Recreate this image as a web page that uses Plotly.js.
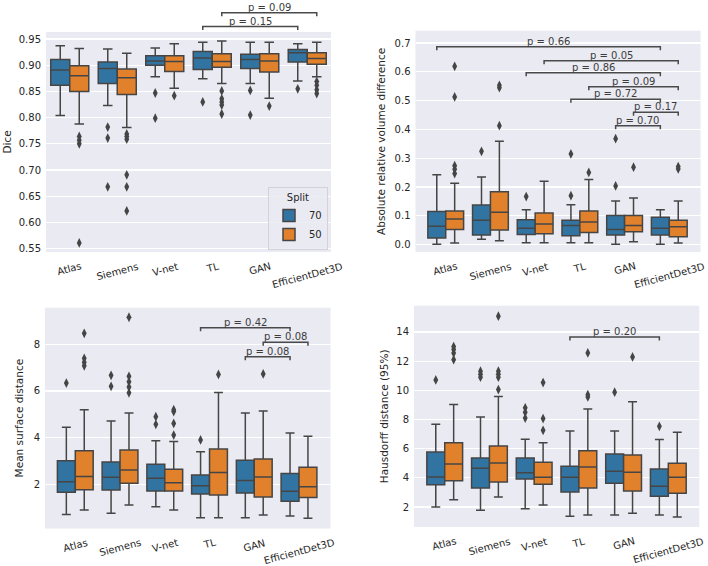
<!DOCTYPE html>
<html><head><meta charset="utf-8">
<script src="https://cdn.plot.ly/plotly-3.0.1.min.js"></script>
<style>html,body{margin:0;padding:0;background:#fff}#chart{width:708px;height:566px}</style>
</head><body><div id="chart"></div>
<script>
// ---------- DATA ----------
const categories = ['Atlas', 'Siemens', 'V-net', 'TL', 'GAN', 'EfficientDet3D'];
const splits = ['70', '50'];

// Dice
const diceLow70 = [0.804, 0.823, 0.878, 0.874, 0.865, 0.870];
const diceQ1_70 = [0.862, 0.865, 0.900, 0.892, 0.894, 0.906];
const diceMed70 = [0.891, 0.894, 0.908, 0.914, 0.911, 0.924];
const diceQ3_70 = [0.911, 0.906, 0.918, 0.926, 0.921, 0.930];
const diceHigh70 = [0.937, 0.931, 0.933, 0.944, 0.944, 0.941];
const diceOut70 = [[], [0.782, 0.761, 0.668], [0.847, 0.799], [0.830], [0.852, 0.805], [0.855]];
const diceLow50 = [0.788, 0.781, 0.856, 0.865, 0.837, 0.878];
const diceQ1_50 = [0.850, 0.844, 0.888, 0.896, 0.887, 0.902];
const diceMed50 = [0.880, 0.876, 0.907, 0.907, 0.908, 0.913];
const diceQ3_50 = [0.899, 0.893, 0.918, 0.922, 0.922, 0.924];
const diceHigh50 = [0.932, 0.923, 0.941, 0.946, 0.944, 0.944];
const diceOut50 = [[0.764, 0.757, 0.750, 0.561], [0.769, 0.764, 0.759, 0.691, 0.668, 0.622], [0.842], [0.851, 0.836, 0.830, 0.824, 0.807], [0.822], [0.869, 0.862, 0.853, 0.846]];
const diceTicks = [0.55, 0.60, 0.65, 0.70, 0.75, 0.80, 0.85, 0.90, 0.95];
const diceBrackets = [[3, '70', 5, '70', 0.9738, 'p = 0.15'], [3, '50', 5, '50', 1.0002, 'p = 0.09']];

// Absolute relative volume difference
const avdLow70 = [0.002, 0.019, 0.007, 0.007, 0.002, 0.002];
const avdQ1_70 = [0.023, 0.034, 0.035, 0.031, 0.034, 0.034];
const avdMed70 = [0.064, 0.085, 0.057, 0.067, 0.053, 0.057];
const avdQ3_70 = [0.115, 0.138, 0.087, 0.085, 0.101, 0.095];
const avdHigh70 = [0.243, 0.235, 0.121, 0.139, 0.152, 0.121];
const avdOut70 = [[], [0.324], [0.167], [0.315, 0.170], [0.368, 0.204], []];
const avdLow50 = [0.006, 0.014, 0.007, 0.007, 0.010, 0.006];
const avdQ1_50 = [0.053, 0.051, 0.038, 0.042, 0.045, 0.028];
const avdMed50 = [0.089, 0.113, 0.072, 0.079, 0.067, 0.062];
const avdQ3_50 = [0.117, 0.184, 0.110, 0.117, 0.101, 0.085];
const avdHigh50 = [0.213, 0.359, 0.220, 0.226, 0.162, 0.152];
const avdOut50 = [[0.619, 0.513, 0.274, 0.262, 0.247], [0.553, 0.545, 0.413], [], [0.251], [0.269], [0.271, 0.263]];
const avdTicks = [0.0, 0.1, 0.2, 0.3, 0.4, 0.5, 0.6, 0.7];
const avdBrackets = [[0, '70', 5, '70', 0.687, 'p = 0.66'], [2, '50', 5, '50', 0.638, 'p = 0.05'], [2, '70', 5, '70', 0.597, 'p = 0.86'], [3, '50', 5, '50', 0.548, 'p = 0.09'], [3, '70', 5, '70', 0.505, 'p = 0.72'], [4, '50', 5, '50', 0.460, 'p = 0.17'], [4, '70', 5, '70', 0.413, 'p = 0.70']];

// Mean surface distance
const msdLow70 = [0.71, 0.76, 1.04, 0.57, 0.57, 0.64];
const msdQ1_70 = [1.66, 1.76, 1.71, 1.58, 1.63, 1.27];
const msdMed70 = [2.11, 2.30, 2.26, 1.94, 2.16, 1.70];
const msdQ3_70 = [3.01, 2.96, 2.86, 2.40, 3.03, 2.46];
const msdHigh70 = [4.44, 4.71, 3.87, 3.40, 5.06, 4.20];
const msdOut70 = [[6.34], [6.67, 6.20], [4.90, 4.57], [3.90], [], []];
const msdLow50 = [0.90, 1.11, 0.90, 0.57, 0.68, 0.54];
const msdQ1_50 = [1.77, 2.04, 1.71, 1.54, 1.46, 1.43];
const msdMed50 = [2.33, 2.61, 2.07, 2.51, 2.31, 1.90];
const msdQ3_50 = [3.44, 3.47, 2.64, 3.51, 3.08, 2.73];
const msdHigh50 = [5.20, 5.06, 3.83, 5.93, 5.14, 4.06];
const msdOut50 = [[8.47, 7.40, 7.23, 7.08], [9.16, 6.63, 6.40, 6.17, 5.92], [5.20, 5.12, 4.61, 4.11], [6.71], [6.73], []];
const msdTicks = [2, 4, 6, 8];
const msdBrackets = [[3, '70', 5, '70', 8.71, 'p = 0.42'], [4, '50', 5, '50', 8.09, 'p = 0.08'], [4, '70', 5, '70', 7.47, 'p = 0.08']];

// Hausdorff distance (95%)
const hdLow70 = [2.00, 1.77, 1.88, 1.36, 1.45, 1.45];
const hdQ1_70 = [3.53, 3.30, 3.92, 3.03, 3.63, 2.73];
const hdMed70 = [4.06, 4.65, 4.35, 4.04, 4.45, 3.42];
const hdQ3_70 = [5.77, 5.36, 5.36, 4.79, 5.64, 4.61];
const hdHigh70 = [7.67, 8.17, 6.64, 7.21, 7.21, 6.62];
const hdOut70 = [[10.71], [11.31, 11.10, 10.90], [8.80, 8.49, 8.10], [], [9.87], [7.53]];
const hdLow50 = [2.50, 2.69, 2.14, 1.45, 1.57, 1.31];
const hdQ1_50 = [3.80, 3.71, 3.56, 3.30, 3.10, 2.94];
const hdMed50 = [4.95, 5.02, 4.04, 4.74, 4.38, 4.04];
const hdQ3_50 = [6.41, 6.18, 5.07, 5.86, 5.57, 5.00];
const hdHigh50 = [9.02, 9.57, 6.41, 8.72, 9.22, 7.12];
const hdOut50 = [[13.00, 12.80, 12.55, 12.10], [15.08, 11.31, 11.10, 10.90, 10.05], [10.53, 8.06, 7.26], [12.56, 9.70, 9.55], [12.29], []];
const hdTicks = [2, 4, 6, 8, 10, 12, 14];
const hdBrackets = [[3, '70', 5, '70', 13.66, 'p = 0.20']];

// ---------- PANELS (layout geometry in px) ----------
const W = 708, H = 566;
const panels = [
  {title: 'Dice', fmt: '.2f', ticks: diceTicks, brackets: diceBrackets, standoff: 5,
   stats: {'70': [diceLow70, diceQ1_70, diceMed70, diceQ3_70, diceHigh70, diceOut70], '50': [diceLow50, diceQ1_50, diceMed50, diceQ3_50, diceHigh50, diceOut50]},
   x0: 46, x1: 331, y0: 32, y1: 252, xr: [-0.5, 5.5], yr: [0.5437, 0.9634]},
  {title: 'Absolute relative volume difference', fmt: '.1f', ticks: avdTicks, brackets: avdBrackets, standoff: 6,
   stats: {'70': [avdLow70, avdQ1_70, avdMed70, avdQ3_70, avdHigh70, avdOut70], '50': [avdLow50, avdQ1_50, avdMed50, avdQ3_50, avdHigh50, avdOut50]},
   x0: 415.5, x1: 700.5, y0: 30.7, y1: 252, xr: [-0.676, 5.698], yr: [-0.0253, 0.7427]},
  {title: 'Mean surface distance', fmt: 'd', ticks: msdTicks, brackets: msdBrackets, standoff: 7,
   stats: {'70': [msdLow70, msdQ1_70, msdMed70, msdQ3_70, msdHigh70, msdOut70], '50': [msdLow50, msdQ1_50, msdMed50, msdQ3_50, msdHigh50, msdOut50]},
   x0: 45, x1: 330.5, y0: 307.7, y1: 528.5, xr: [-0.677, 5.704], yr: [0.106, 9.569]},
  {title: 'Hausdorff distance (95%)', fmt: 'd', ticks: hdTicks, brackets: hdBrackets, standoff: 5,
   stats: {'70': [hdLow70, hdQ1_70, hdMed70, hdQ3_70, hdHigh70, hdOut70], '50': [hdLow50, hdQ1_50, hdMed50, hdQ3_50, hdHigh50, hdOut50]},
   x0: 414, x1: 699.3, y0: 305.7, y1: 527, xr: [-0.687, 5.693], yr: [0.63, 15.80]}
];

const colors = {'70': '#3274a1', '50': '#e1812c'};
const offsets = {'70': -0.2, '50': 0.2};
const edge = '#454545';
const FONT = 'DejaVu Sans, sans-serif';

const traces = [];
const layout = {
  width: W, height: H,
  margin: {l: 0, r: 0, t: 0, b: 0, pad: 0},
  paper_bgcolor: '#ffffff', plot_bgcolor: '#eaeaf2',
  boxmode: 'group', boxgap: 0.2, boxgroupgap: 0,
  scattermode: 'group', scattergap: 0.2,
  font: {family: FONT, size: 10, color: '#262626'},
  showlegend: true,
  legend: {x: 328 / W, y: 1 - 250 / H, xanchor: 'right', yanchor: 'bottom',
    bgcolor: 'rgba(234,234,242,0.85)', bordercolor: '#d2d2d8', borderwidth: 1,
    font: {family: FONT, size: 10, color: '#262626'}, itemwidth: 30, tracegroupgap: 0,
    title: {text: 'Split', side: 'top center', font: {family: FONT, size: 10, color: '#262626'}}},
  shapes: [], annotations: []
};

panels.forEach((p, k) => {
  const sfx = k === 0 ? '' : String(k + 1);
  const xa = 'x' + sfx, ya = 'y' + sfx;
  splits.forEach(s => {
    const st = p.stats[s];
    traces.push({
      type: 'box', name: s, legendgroup: s, showlegend: k === 0,
      xaxis: xa, yaxis: ya, offsetgroup: s,
      x: categories,
      lowerfence: st[0], q1: st[1], median: st[2], q3: st[3], upperfence: st[4],
      boxpoints: false,
      fillcolor: colors[s], line: {color: edge, width: 1.5},
      whiskerwidth: 0.5, hoverinfo: 'skip'
    });
  });
  // outliers (fliers) as grouped scatter points
  splits.forEach(s => {
    const out = p.stats[s][5];
    const ox = [], oy = [];
    out.forEach((vals, i) => vals.forEach(v => { ox.push(categories[i]); oy.push(v); }));
    traces.push({
      type: 'scatter', mode: 'markers', name: s + ' outliers', showlegend: false,
      xaxis: xa, yaxis: ya, offsetgroup: s, x: ox, y: oy,
      marker: {symbol: 'diamond-tall', size: 7, color: edge, line: {width: 0}},
      hoverinfo: 'skip', cliponaxis: false
    });
  });
  const ph = p.y1 - p.y0;
  layout['xaxis' + sfx] = {
    domain: [p.x0 / W, p.x1 / W], anchor: ya, range: p.xr, type: 'category',
    categoryorder: 'array', categoryarray: categories,
    showgrid: false, zeroline: false, showline: false, ticks: '', showticklabels: false, fixedrange: true
  };
  layout['yaxis' + sfx] = {
    domain: [1 - p.y1 / H, 1 - p.y0 / H], anchor: xa, range: p.yr,
    tickvals: p.ticks, tickformat: p.fmt, ticks: '', ticklabelstandoff: 4,
    showgrid: true, gridcolor: '#ffffff', gridwidth: 1.2, zeroline: false, showline: false,
    tickfont: {family: FONT, size: 10, color: '#262626'},
    title: {text: p.title, standoff: p.standoff, font: {family: FONT, size: 10.5, color: '#262626'}},
    automargin: false, fixedrange: true
  };
  // rotated category labels, centred under each category
  categories.forEach((c, i) => {
    layout.annotations.push({
      text: c, xref: xa, yref: ya + ' domain', x: i, y: 0,
      xanchor: 'center', yanchor: 'top', yshift: -6, textangle: -15, showarrow: false,
      font: {family: FONT, size: 10, color: '#262626'}
    });
  });
  // significance brackets
  const fx = v => (v - p.xr[0]) / (p.xr[1] - p.xr[0]);
  const fy = v => (v - p.yr[0]) / (p.yr[1] - p.yr[0]);
  const tick = 3.5 / ph;
  p.brackets.forEach(b => {
    const xa0 = fx(b[0] + offsets[b[1]]), xb0 = fx(b[2] + offsets[b[3]]), yy = fy(b[4]);
    layout.shapes.push({
      type: 'path', xref: xa + ' domain', yref: ya + ' domain',
      path: `M${xa0},${yy - tick} L${xa0},${yy} L${xb0},${yy} L${xb0},${yy - tick}`,
      line: {color: '#4a4a4a', width: 1.5}
    });
    layout.annotations.push({
      text: b[5], xref: xa + ' domain', yref: ya + ' domain', x: (xa0 + xb0) / 2, y: yy,
      xanchor: 'center', yanchor: 'bottom', yshift: -2, showarrow: false,
      font: {family: FONT, size: 10, color: '#3c3c3c'}
    });
  });
});

Plotly.newPlot('chart', traces, layout, {displayModeBar: false, staticPlot: true});
</script>
</body></html>
